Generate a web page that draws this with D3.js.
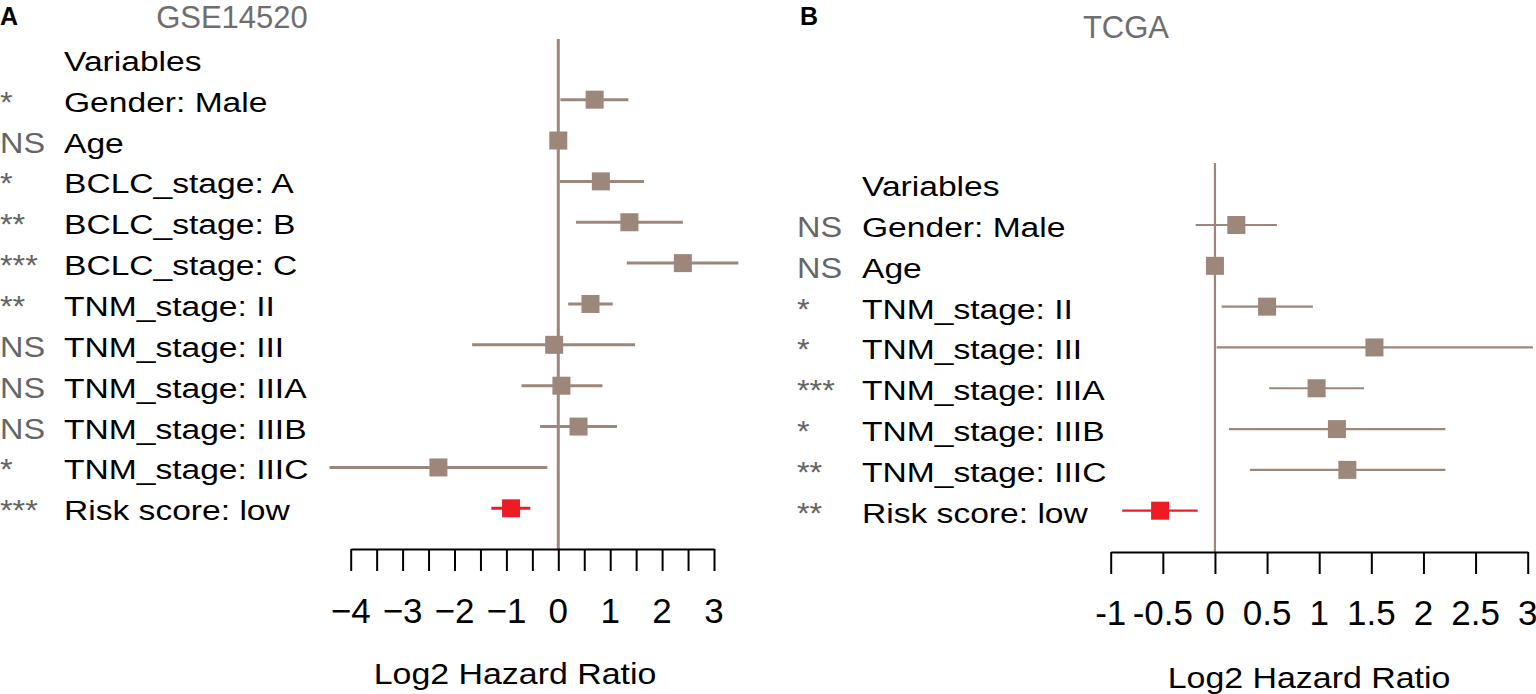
<!DOCTYPE html>
<html>
<head>
<meta charset="utf-8">
<script src="https://cdn.jsdelivr.net/npm/d3@7"></script>
<style>
  body { margin: 0; background: #fff; }
  svg { display: block; font-family: "Liberation Sans", Arial, sans-serif; }
</style>
</head>
<body>
<div id="chart"></div>
<script>
// panel A: GSE14520
const gseVariables = ["Gender: Male", "Age", "BCLC_stage: A", "BCLC_stage: B", "BCLC_stage: C",
  "TNM_stage: II", "TNM_stage: III", "TNM_stage: IIIA", "TNM_stage: IIIB", "TNM_stage: IIIC", "Risk score: low"];
const gseSig = ["*", "NS", "*", "**", "***", "**", "NS", "NS", "NS", "*", "***"];
const gseEst = [0.70, 0.00, 0.82, 1.37, 2.40, 0.62, -0.08, 0.06, 0.39, -2.31, -0.91];
const gseLow = [0.04, -0.01, 0.03, 0.34, 1.32, 0.19, -1.66, -0.71, -0.35, -4.41, -1.29];
const gseHigh = [1.35, 0.01, 1.65, 2.40, 3.47, 1.05, 1.48, 0.85, 1.13, -0.21, -0.54];
const gseTicks = [-4, -3.5, -3, -2.5, -2, -1.5, -1, -0.5, 0, 0.5, 1, 1.5, 2, 2.5, 3];
const gseTickLabels = [-4, -3, -2, -1, 0, 1, 2, 3];

// panel B: TCGA
const tcgaVariables = ["Gender: Male", "Age", "TNM_stage: II", "TNM_stage: III", "TNM_stage: IIIA",
  "TNM_stage: IIIB", "TNM_stage: IIIC", "Risk score: low"];
const tcgaSig = ["NS", "NS", "*", "*", "***", "*", "**", "**"];
const tcgaEst = [0.205, 0.00, 0.50, 1.53, 0.975, 1.17, 1.27, -0.526];
const tcgaLow = [-0.185, -0.01, 0.064, 0.016, 0.52, 0.135, 0.335, -0.89];
const tcgaHigh = [0.595, 0.01, 0.94, 3.05, 1.43, 2.21, 2.21, -0.166];
const tcgaTicks = [-1, -0.5, 0, 0.5, 1, 1.5, 2, 2.5, 3];

const width = 1536, height = 694;
const markColor = "#9d877a";
const riskColor = "#ed1c24";

const svg = d3.select("#chart").append("svg")
  .attr("width", width)
  .attr("height", height);

function drawForest(opts) {
  const g = svg.append("g");
  const x = d3.scaleLinear().domain(opts.domain).range(opts.xRange);
  const y = d3.scaleLinear().domain([0, opts.vars.length]).range(opts.yRange);

  const rows = opts.vars.map((v, i) => ({
    label: v, sig: opts.sig[i], est: opts.est[i], lo: opts.lo[i], hi: opts.hi[i], i: i + 1
  }));

  // panel letter and title
  g.append("text").attr("x", opts.letterX).attr("y", 25)
    .attr("font-size", 25).attr("font-weight", "bold").attr("fill", "#000")
    .text(opts.letter);
  g.append("text").attr("x", opts.titleX).attr("y", opts.titleY)
    .attr("text-anchor", "middle").attr("font-size", 31).attr("fill", "#6e6e6e")
    .text(opts.title);

  // header + labels (horizontally stretched like the original)
  const labelG = g.append("g");
  labelG.append("text")
    .attr("transform", `translate(${opts.labelX},${y(0) + 12}) scale(1.2,1)`)
    .attr("font-size", 28).text("Variables");
  labelG.selectAll("text.row").data(rows).join("text")
    .attr("class", "row")
    .attr("transform", d => `translate(${opts.labelX},${y(d.i) + 12}) scale(1.2,1)`)
    .attr("font-size", 28).attr("fill", "#000")
    .text(d => d.label);
  labelG.selectAll("text.sig").data(rows).join("text")
    .attr("class", "sig")
    .attr("transform", d => `translate(${opts.sigX},${y(d.i) + 12}) scale(1.08,1)`)
    .attr("font-size", 30).attr("fill", "#666")
    .text(d => d.sig);

  // reference line at 0
  g.append("line")
    .attr("x1", x(0)).attr("x2", x(0))
    .attr("y1", opts.refTop).attr("y2", opts.axisY)
    .attr("stroke", markColor).attr("stroke-width", opts.lineW);

  // confidence intervals
  g.selectAll("line.ci").data(rows).join("line")
    .attr("class", "ci")
    .attr("x1", d => x(d.lo))
    .attr("x2", d => x(d.hi))
    .attr("y1", d => y(d.i)).attr("y2", d => y(d.i))
    .attr("stroke", (d, i) => i === rows.length - 1 ? riskColor : markColor)
    .attr("stroke-width", opts.lineW);

  // estimate squares
  const s = 18;
  g.selectAll("rect.est").data(rows).join("rect")
    .attr("class", "est")
    .attr("x", d => x(d.est) - s / 2).attr("y", d => y(d.i) - s / 2)
    .attr("width", s).attr("height", s)
    .attr("fill", (d, i) => i === rows.length - 1 ? riskColor : markColor);

  // x axis
  const axis = d3.axisBottom(x)
    .tickValues(opts.ticks)
    .tickSize(22)
    .tickSizeOuter(0)
    .tickFormat(() => "");
  const ax = g.append("g").attr("transform", `translate(0,${opts.axisY})`).call(axis);
  ax.select(".domain").attr("stroke", "#000").attr("stroke-width", 2);
  ax.selectAll(".tick line").attr("stroke", "#000").attr("stroke-width", 2);

  g.selectAll("text.tl").data(opts.tickLabels).join("text")
    .attr("class", "tl")
    .attr("x", d => x(d)).attr("y", opts.tickLabelY)
    .attr("text-anchor", "middle").attr("font-size", 35).attr("fill", "#000")
    .text(d => opts.fmt(d));

  g.append("text")
    .attr("transform", `translate(${opts.axisTitleX},${opts.axisTitleY}) scale(1.13,1)`)
    .attr("text-anchor", "middle").attr("font-size", 30).attr("fill", "#000")
    .text("Log2 Hazard Ratio");
}

drawForest({
  letter: "A", letterX: 0, title: "GSE14520", titleX: 232, titleY: 28,
  vars: gseVariables, sig: gseSig, est: gseEst, lo: gseLow, hi: gseHigh,
  domain: [-4, 3], xRange: [350.7, 714], yRange: [58.8, 508.3],
  labelX: 64, sigX: 0, refTop: 39, axisY: 549, lineW: 3,
  ticks: gseTicks, tickLabels: gseTickLabels, tickLabelY: 623,
  fmt: d => d3.format("")(d),
  axisTitleX: 515, axisTitleY: 684
});

drawForest({
  letter: "B", letterX: 800, title: "TCGA", titleX: 1126, titleY: 38,
  vars: tcgaVariables, sig: tcgaSig, est: tcgaEst, lo: tcgaLow, hi: tcgaHigh,
  domain: [-1, 3], xRange: [1110.7, 1527.7], yRange: [184.2, 510.7],
  labelX: 862, sigX: 797, refTop: 163, axisY: 552, lineW: 2.2,
  ticks: tcgaTicks, tickLabels: tcgaTicks, tickLabelY: 625,
  fmt: d => String(d),
  axisTitleX: 1309, axisTitleY: 688
});
</script>
</body>
</html>
